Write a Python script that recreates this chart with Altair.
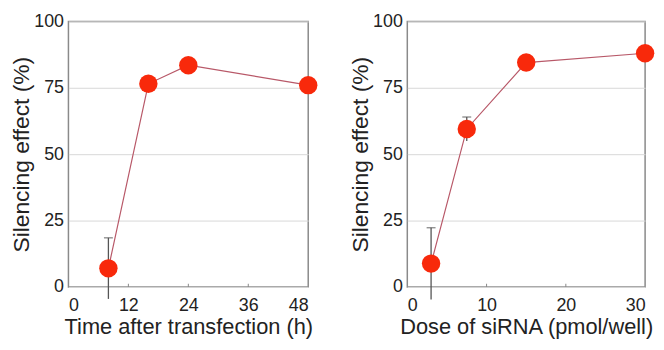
import altair as alt
import pandas as pd

# Left panel: time course
time_h = [8, 16, 24, 48]
time_effect = [7, 76.5, 83.5, 76]
time_err = [11.5, 0, 0, 0]

# Right panel: dose response
dose = [3, 7.5, 15, 30]
dose_effect = [8.8, 59.5, 84.5, 88]
dose_err = [13.5, 4.5, 0, 0]

left_ticks = [0, 12, 24, 36, 48]
right_ticks = [0, 10, 20, 30]
y_ticks = [0, 25, 50, 75, 100]

FONT = "Liberation Sans"
RED = "#f8290b"


def panel(xs, ys, errs, xdom, xticks, xtitle, w):
    df = pd.DataFrame({"x": xs, "y": ys, "err": errs})
    df["lo"] = df["y"] - df["err"]
    df["hi"] = df["y"] + df["err"]
    eb = df[df["err"] > 0]
    tk = pd.DataFrame({"x": xticks[1:-1], "y0": [0] * (len(xticks) - 2), "y1": [1.2] * (len(xticks) - 2)})

    xsc = alt.Scale(domain=xdom, nice=False, zero=False)
    ysc = alt.Scale(domain=[0, 100], nice=False)
    xax = alt.Axis(values=xticks, title=xtitle, grid=False, ticks=False, domain=False,
                   labelPadding=10, titlePadding=2, labelFontSize=18, titleFontSize=22)
    yax = alt.Axis(values=y_ticks, title="Silencing effect (%)", grid=True, ticks=False,
                   domain=False, labelPadding=5, titlePadding=0, labelFontSize=18,
                   titleFontSize=23, gridColor="#d8d8d8", gridWidth=1)

    X = lambda f: alt.X(f, scale=xsc, axis=xax)
    Y = lambda f: alt.Y(f, scale=ysc, axis=yax)

    base = alt.Chart(df)
    ticks = alt.Chart(tk).mark_rule(color="#888888", strokeWidth=1).encode(
        x=X("x:Q"), y=Y("y0:Q"), y2="y1:Q")
    line = base.mark_line(color="#b85868", strokeWidth=1.2).encode(x=X("x:Q"), y=Y("y:Q"))
    err = alt.Chart(eb).mark_rule(color="#555555", strokeWidth=1.3).encode(
        x=X("x:Q"), y=Y("lo:Q"), y2="hi:Q")
    cap = alt.Chart(eb).mark_tick(color="#555555", thickness=1.3, size=9, orient="horizontal").encode(
        x=X("x:Q"), y=Y("hi:Q"))
    pts = base.mark_circle(color=RED, opacity=1, size=345).encode(x=X("x:Q"), y=Y("y:Q"))
    return alt.layer(ticks, line, err, cap, pts).properties(width=w, height=268)


left = panel(time_h, time_effect, time_err, [0, 48], left_ticks, "Time after transfection (h)", 242)
right = panel(dose, dose_effect, dose_err, [0, 30], right_ticks, "Dose of siRNA (pmol/well)", 240)

chart = alt.hconcat(left, right, spacing=30).configure_view(
    stroke="#8a8a8a", strokeWidth=1.5
).configure_axis(
    labelFont=FONT, titleFont=FONT, labelColor="#222222", titleColor="#222222",
    titleFontWeight="normal"
).properties(padding={"left": 2, "top": 2, "right": 0, "bottom": 0}, background="white")

chart.save("out.html", embed_options={"renderer": "svg", "actions": False})
